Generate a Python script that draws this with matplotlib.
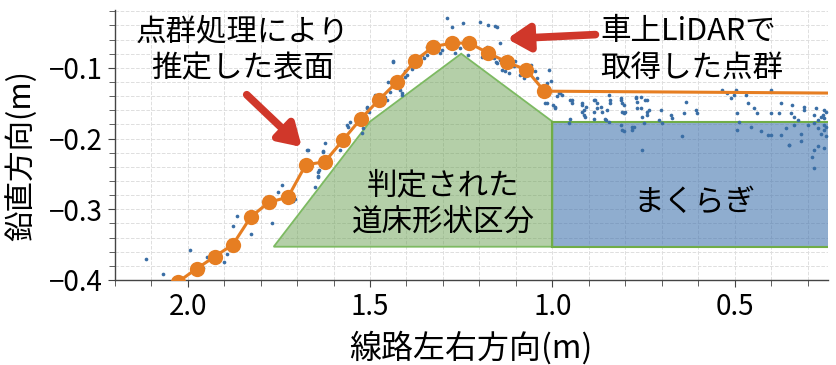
import matplotlib
matplotlib.use("Agg")
import matplotlib.pyplot as plt
from matplotlib.patches import Polygon, Rectangle
from matplotlib.ticker import MultipleLocator

plt.rcParams['font.family'] = ['Noto Sans CJK JP', 'DejaVu Sans']

# estimated surface (orange line with markers)
surf_x = [2.077, 2.027, 1.975, 1.926, 1.876, 1.827, 1.777, 1.725, 1.676, 1.624, 1.574,
          1.525, 1.475, 1.426, 1.376, 1.327, 1.275, 1.228, 1.176, 1.124, 1.071, 1.022]
surf_y = [-0.417, -0.403, -0.384, -0.367, -0.350, -0.311, -0.290, -0.283, -0.237, -0.233, -0.202,
          -0.172, -0.145, -0.120, -0.090, -0.070, -0.065, -0.065, -0.079, -0.092, -0.103, -0.133]
# flat part of the surface over the sleeper (no markers)
flat_x = [1.022, 0.15]
flat_y = [-0.133, -0.136]

# LiDAR point cloud
pts_x = [2.113, 2.067, 1.994, 1.957, 1.947, 1.901, 1.892, 1.875, 1.866, 1.827, 1.770, 1.751,
         1.742, 1.710, 1.706, 1.669, 1.651, 1.643, 1.640, 1.628, 1.642, 1.623, 1.614, 1.582,
         1.559, 1.555, 1.523, 1.518, 1.509, 1.504, 1.486, 1.459, 1.454, 1.445, 1.436, 1.417,
         1.413, 1.404, 1.399, 1.385, 1.367, 1.358, 1.353, 1.344, 1.344, 1.326, 1.308, 1.303,
         1.266, 1.253, 1.230, 1.216, 1.193, 1.179, 1.161, 1.152, 1.143, 1.129, 1.120, 1.106,
         1.088, 1.079, 1.060, 1.047, 1.042, 1.019, 1.005, 0.992, 1.288, 1.275, 1.245, 1.198,
         1.176, 1.151, 1.143, 1.437, 1.450, 1.404, 1.412, 1.508, 1.522, 1.563, 1.673, 1.629,
         1.643, 1.157, 1.154, 1.139, 1.102, 1.010, 0.987, 0.978, 0.997, 0.951, 0.951, 0.919,
         0.914, 0.910, 0.882, 0.878, 0.850, 0.813, 0.800, 0.772, 0.768, 0.745, 0.736, 0.754,
         0.855, 0.809, 0.777, 0.887,
         1.015, 0.983, 0.973, 0.946, 0.946, 0.919, 0.909, 0.886, 0.877, 0.868, 0.845, 0.841,
         0.841, 0.813, 0.809, 0.804, 0.772, 0.767, 0.758, 0.740, 0.635, 0.534, 0.520, 0.511,
         0.502, 0.497, 0.470, 0.465, 0.401, 0.374, 0.342, 0.310, 0.278, 0.255, 0.259,
         1.015, 0.992, 0.919, 0.914, 0.886, 0.864, 0.854, 0.845, 0.809, 0.804, 0.758, 0.740,
         0.740, 0.703, 0.708, 0.699, 0.676, 0.671, 0.639, 0.607, 0.603, 0.493, 0.488, 0.447,
         0.438, 0.401, 0.378, 0.346, 0.337, 0.328, 0.310, 0.282, 0.273, 0.264, 0.255, 0.250,
         0.955, 0.813, 0.804, 0.781, 0.781, 0.749, 0.644, 0.493, 0.456, 0.429, 0.410, 0.374,
         0.401, 0.360, 0.351, 0.337, 0.319, 0.300, 0.282, 0.273, 0.264, 0.255, 0.250, 0.351,
         0.319, 0.754, 0.282, 0.273, 0.255, 0.287, 0.282, 0.255, 0.250]
pts_y = [-0.370, -0.391, -0.357, -0.383, -0.368, -0.374, -0.363, -0.324, -0.309, -0.335, -0.319, -0.276,
         -0.266, -0.289, -0.286, -0.216, -0.268, -0.253, -0.245, -0.218, -0.254, -0.207, -0.226, -0.216,
         -0.183, -0.176, -0.176, -0.185, -0.155, -0.162, -0.138, -0.141, -0.145, -0.134, -0.091, -0.131,
         -0.136, -0.105, -0.110, -0.101, -0.093, -0.082, -0.086, -0.082, -0.070, -0.077, -0.079, -0.075,
         -0.079, -0.072, -0.082, -0.067, -0.084, -0.070, -0.086, -0.093, -0.089, -0.105, -0.108, -0.098,
         -0.110, -0.115, -0.096, -0.105, -0.115, -0.150, -0.119, -0.155, -0.029, -0.042, -0.036, -0.035,
         -0.039, -0.042, -0.065, -0.092, -0.120, -0.113, -0.138, -0.157, -0.192, -0.181, -0.216, -0.219,
         -0.247, -0.041, -0.092, -0.103, -0.091, -0.103, -0.140, -0.136, -0.152, -0.145, -0.173, -0.152,
         -0.159, -0.169, -0.145, -0.157, -0.159, -0.145, -0.162, -0.143, -0.157, -0.145, -0.159, -0.169,
         -0.173, -0.188, -0.183, -0.173,
         -0.122, -0.136, -0.138, -0.145, -0.150, -0.150, -0.155, -0.145, -0.150, -0.155, -0.138, -0.145,
         -0.150, -0.143, -0.150, -0.152, -0.141, -0.148, -0.141, -0.145, -0.148, -0.131, -0.136, -0.143,
         -0.138, -0.131, -0.138, -0.150, -0.131, -0.150, -0.152, -0.155, -0.157, -0.160, -0.167,
         -0.150, -0.157, -0.162, -0.167, -0.162, -0.162, -0.174, -0.176, -0.162, -0.164, -0.157, -0.162,
         -0.167, -0.160, -0.174, -0.178, -0.167, -0.171, -0.164, -0.160, -0.164, -0.164, -0.176, -0.157,
         -0.164, -0.164, -0.164, -0.164, -0.169, -0.174, -0.160, -0.167, -0.174, -0.169, -0.171, -0.162,
         -0.178, -0.181, -0.190, -0.183, -0.188, -0.178, -0.197, -0.188, -0.183, -0.190, -0.195, -0.195,
         -0.195, -0.185, -0.209, -0.181, -0.193, -0.181, -0.178, -0.185, -0.193, -0.188, -0.197, -0.209,
         -0.204, -0.216, -0.216, -0.211, -0.214, -0.226, -0.242, -0.181, -0.183]

# ballast shape section (green) and sleeper (blue)
ballast_x = [1.764, 1.5, 1.25, 1.0, 1.0]
ballast_y = [-0.353, -0.176, -0.080, -0.176, -0.353]
sleeper_x = [1.0, 0.15]
sleeper_y = [-0.353, -0.176]

fig = plt.figure(figsize=(8.37, 3.65), dpi=100)
ax = fig.add_axes([0.137, 0.233, 0.852, 0.740])

ax.add_patch(Polygon(list(zip(ballast_x, ballast_y)), closed=True,
                     facecolor='#6aa152', alpha=0.5, edgecolor='none', zorder=1))
ax.add_patch(Polygon(list(zip(ballast_x, ballast_y)), closed=True,
                     facecolor='none', edgecolor='#7dba62', lw=1.3, zorder=1.5))
ax.add_patch(Rectangle((sleeper_x[1], sleeper_y[0]), sleeper_x[0] - sleeper_x[1],
                       sleeper_y[1] - sleeper_y[0], facecolor='#3f72ad', alpha=0.58,
                       edgecolor='none', zorder=1))
ax.add_patch(Rectangle((sleeper_x[1], sleeper_y[0]), sleeper_x[0] - sleeper_x[1],
                       sleeper_y[1] - sleeper_y[0], facecolor='none',
                       edgecolor='#70ad47', lw=1.5, zorder=1.5))

ax.scatter(pts_x, pts_y, s=7, color='#3a6ea5', linewidths=0, zorder=2)
ax.plot(flat_x, flat_y, color='#e67e22', lw=2.2, zorder=3)
ax.plot(surf_x, surf_y, color='#e67e22', lw=2.2, marker='o', ms=11,
        markeredgewidth=0, zorder=3)

ax.set_xlim(2.2, 0.245)
ax.set_ylim(-0.4, -0.018)
ax.xaxis.set_major_locator(MultipleLocator(0.5))
ax.xaxis.set_minor_locator(MultipleLocator(0.1))
ax.yaxis.set_major_locator(MultipleLocator(0.1))
ax.yaxis.set_minor_locator(MultipleLocator(0.02))
ax.xaxis.set_major_formatter(lambda v, p: f"{v:.1f}")
ax.yaxis.set_major_formatter(lambda v, p: f"{v:.1f}".replace('-', '\u2212'))
ax.grid(which='both', color='#dedede', ls='--', lw=0.7, zorder=0)
ax.set_axisbelow(True)
for s in ['top', 'right']:
    ax.spines[s].set_visible(False)
for s in ['left', 'bottom']:
    ax.spines[s].set_color('#444444')
    ax.spines[s].set_linewidth(1.0)
ax.tick_params(which='both', direction='out', colors='#444444', labelcolor='black',
               labelsize=20)
ax.tick_params(which='major', length=5)
ax.tick_params(which='minor', length=4)

ax.set_xlabel('線路左右方向(m)', fontsize=23, labelpad=7)
ax.set_ylabel('鉛直方向(m)', fontsize=22)
ax.yaxis.set_label_coords(-0.108, 0.46)

ax.text(1.85, -0.075, '点群処理により\n推定した表面', fontsize=22, ha='center',
        va='center', linespacing=1.25, zorder=5)
ax.text(0.868, -0.075, '車上LiDARで\n取得した点群', fontsize=22, ha='left',
        va='center', linespacing=1.25, zorder=5)
ax.text(1.30, -0.293, '判定された\n道床形状区分', fontsize=22, ha='center',
        va='center', linespacing=1.2, zorder=5)
ax.text(0.61, -0.29, 'まくらぎ', fontsize=22, ha='center', va='center', zorder=5)

arrow_style = dict(arrowstyle='-|>,head_length=1.3,head_width=0.8', color='#d0372a',
                   lw=5.5, shrinkA=0, shrinkB=0)
ax.annotate('', xy=(1.687, -0.212), xytext=(1.838, -0.138), arrowprops=arrow_style, zorder=6)
ax.annotate('', xy=(1.124, -0.059), xytext=(0.882, -0.053), arrowprops=arrow_style, zorder=6)

fig.savefig('out.png', dpi=100)
